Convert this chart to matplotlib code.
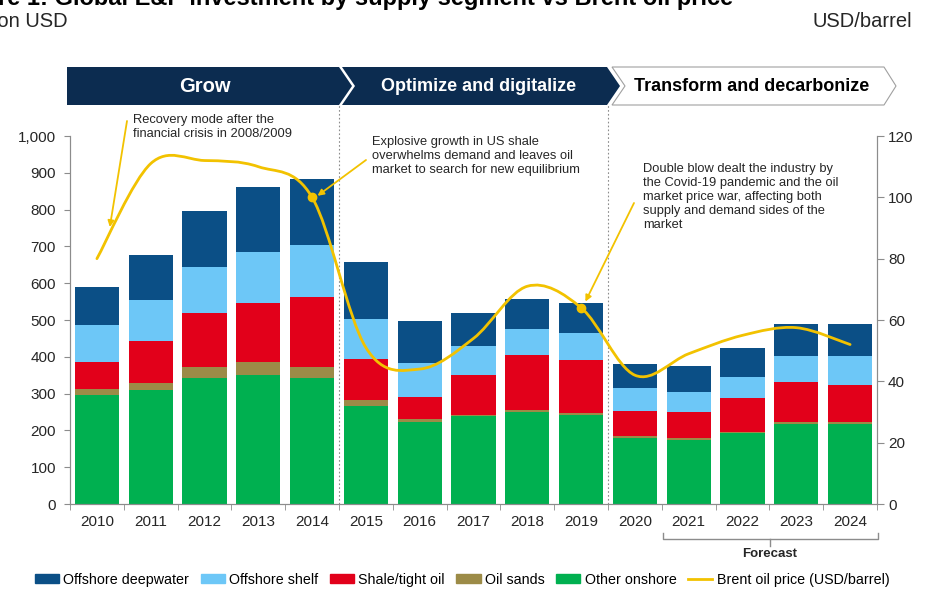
import matplotlib
matplotlib.use("Agg")
import matplotlib.pyplot as plt
import numpy as np
from matplotlib.patches import Polygon, Patch, PathPatch
from matplotlib.path import Path
from matplotlib.lines import Line2D
from matplotlib.ticker import FuncFormatter
import matplotlib.transforms as mtransforms

plt.rcParams["font.family"] = ["Liberation Sans", "DejaVu Sans"]

# ---- data ----
years = ["2010", "2011", "2012", "2013", "2014", "2015", "2016", "2017",
         "2018", "2019", "2020", "2021", "2022", "2023", "2024"]
other_onshore = [297, 310, 342, 351, 342, 267, 223, 238, 249, 242, 179, 175, 193, 218, 218]
oil_sands = [16, 20, 30, 34, 30, 16, 8, 5, 7, 5, 5, 4, 4, 5, 5]
shale_tight = [72, 112, 146, 162, 190, 111, 59, 107, 148, 145, 70, 71, 90, 108, 101]
offshore_shelf = [102, 111, 125, 137, 143, 108, 93, 78, 71, 74, 60, 55, 59, 71, 77]
offshore_deep = [102, 124, 154, 177, 177, 155, 113, 91, 83, 81, 66, 71, 77, 87, 89]
brent = [80, 111, 112, 110, 100, 51, 44, 54, 71, 64, 42, 49, 55, 57.5, 52]

segments = ["Other onshore", "Oil sands", "Shale/tight oil", "Offshore shelf", "Offshore deepwater"]
seg_values = [other_onshore, oil_sands, shale_tight, offshore_shelf, offshore_deep]
seg_colors = ["#00B050", "#9C8B47", "#E2001A", "#6DC7F7", "#0B4F86"]
phases = ["Grow", "Optimize and digitalize", "Transform and decarbonize"]

GOLD = "#F2C200"
NAVY = "#0C2C50"
GREY = "#8C8C8C"
TXT = "#262626"

W, H = 933, 589


def fx(px):
    return px / W


def fy(py):
    return 1 - py / H


fig = plt.figure(figsize=(W / 100, H / 100), dpi=100)
ax = fig.add_axes([fx(70), fy(504), fx(877) - fx(70), fy(136) - fy(504)])
ax2 = ax.twinx()

x = np.arange(len(years))
bottom = np.zeros(len(years))
for name, vals, col in zip(segments, seg_values, seg_colors):
    ax.bar(x, vals, width=0.82, bottom=bottom, color=col, label=name, zorder=2)
    bottom += np.array(vals)

ax.set_xlim(-0.5, len(years) - 0.5)
ax.set_ylim(0, 1000)
ax.set_yticks(range(0, 1001, 100))
ax.yaxis.set_major_formatter(FuncFormatter(lambda v, p: f"{int(v):,}"))
ax.set_xticks(x)
ax.set_xticklabels(years)
ax.set_xticks(np.arange(-0.5, len(years), 1), minor=True)
ax.tick_params(axis="x", which="major", length=0, pad=8, labelsize=11, labelcolor=TXT)
ax.tick_params(axis="x", which="minor", length=4, color=GREY, direction="out")
ax.tick_params(axis="y", length=4, color=GREY, pad=6, labelsize=11, labelcolor=TXT)

ax2.set_ylim(0, 120)
ax2.set_yticks(range(0, 121, 20))
ax2.tick_params(axis="y", length=5, color=GREY, pad=3, labelsize=11, labelcolor=TXT)

for a in (ax, ax2):
    a.spines["top"].set_visible(False)
    for s in ("left", "right", "bottom"):
        a.spines[s].set_color(GREY)
        a.spines[s].set_linewidth(0.8)

# smoothed Brent line drawn as Bezier segments through the data points
pts = np.column_stack([x, brent]).astype(float)
verts = [pts[0]]
codes = [Path.MOVETO]
n = len(pts)
for i in range(n - 1):
    p_prev = pts[i - 1] if i > 0 else pts[i]
    p_next2 = pts[i + 2] if i + 2 < n else pts[i + 1]
    c1 = pts[i] + (pts[i + 1] - p_prev) / 6
    c2 = pts[i + 1] - (p_next2 - pts[i]) / 6
    verts += [c1, c2, pts[i + 1]]
    codes += [Path.CURVE4] * 3
ax2.add_patch(PathPatch(Path(verts, codes), facecolor="none", edgecolor=GOLD,
                        lw=2.0, zorder=4, capstyle="round"))
ax2.plot([4, 9], [brent[4], brent[9]], "o", color=GOLD, ms=6, zorder=5)

# phase separators
blend = mtransforms.blended_transform_factory(ax.transData, ax.transAxes)
for xb in (4.5, 9.5):
    ax.plot([xb, xb], [0, (504 - 105) / 368], ls=(0, (1.5, 2)), color=GREY,
            lw=0.8, transform=blend, clip_on=False, zorder=1)

# banner chevrons
banner = [
    [(67, 67), (339, 67), (352, 86), (339, 105), (67, 105)],
    [(342, 67), (607, 67), (620, 86), (607, 105), (342, 105), (355, 86)],
    [(612, 67), (884, 67), (896, 86), (884, 105), (612, 105), (625, 86)],
]
for i, poly in enumerate(banner):
    xy = [(fx(a), fy(b)) for a, b in poly]
    if i < 2:
        fig.patches.append(Polygon(xy, closed=True, transform=fig.transFigure,
                                   facecolor=NAVY, edgecolor="none"))
    else:
        fig.patches.append(Polygon(xy, closed=True, transform=fig.transFigure,
                                   facecolor="white", edgecolor="#A0A0A0", lw=0.8))
fig.text(fx(205), fy(86.5), phases[0], ha="center", va="center", color="white",
         fontsize=14.5, fontweight="bold")
fig.text(fx(479), fy(86.5), phases[1], ha="center", va="center", color="white",
         fontsize=13, fontweight="bold")
fig.text(fx(752), fy(86.5), phases[2], ha="center", va="center", color="black",
         fontsize=13, fontweight="bold")

# titles
fig.text(fx(733), fy(5), "Figure 1: Global E&P investment by supply segment vs Brent oil price",
         ha="right", va="baseline", fontsize=17, fontweight="bold", color="black")
fig.text(fx(68), fy(26.7), "Billion USD", ha="right", va="baseline", fontsize=14.5, color=TXT)
fig.text(fx(912), fy(26.7), "USD/barrel", ha="right", va="baseline", fontsize=14.5, color=TXT)

# annotations
notes = [
    ("Recovery mode after the\nfinancial crisis in 2008/2009", (133, 114), (127, 121), (0.24, 90.3)),
    ("Explosive growth in US shale\noverwhelms demand and leaves oil\nmarket to search for new equilibrium",
     (372, 136), (366, 160), (4.1, 100.5)),
    ("Double blow dealt the industry by\nthe Covid-19 pandemic and the oil\nmarket price war, affecting both\n"
     "supply and demand sides of the\nmarket", (643, 163), (634, 203), (9.08, 66)),
]
for txt, tpos, astart, ahead in notes:
    fig.text(fx(tpos[0]), fy(tpos[1]), txt, ha="left", va="top", fontsize=9.3,
             color=TXT, linespacing=1.22)
    ax2.annotate("", xy=ahead, xycoords="data", xytext=(fx(astart[0]), fy(astart[1])),
                 textcoords="figure fraction", annotation_clip=False,
                 arrowprops=dict(arrowstyle="-|>", color=GOLD, lw=1.3,
                                 mutation_scale=9, shrinkA=0, shrinkB=0))

# forecast bracket
yb, yc, yt = (504 - 539) / 368, (504 - 533) / 368, (504 - 546) / 368
x0, x1, xm = 10.52, 14.52, 12.51
ax.plot([x0, x0, x1, x1], [yc, yb, yb, yc], color=GREY, lw=1.0, transform=blend, clip_on=False)
ax.plot([xm, xm], [yb, yt], color=GREY, lw=1.0, transform=blend, clip_on=False)
ax.text(xm, (504 - 554) / 368, "Forecast", transform=blend, ha="center", va="center",
        fontsize=9.5, fontweight="bold", color=TXT)

# legend
handles = [Patch(color=seg_colors[i], label=segments[i]) for i in (4, 3, 2, 1, 0)]
handles.append(Line2D([], [], color=GOLD, lw=2, label="Brent oil price (USD/barrel)"))
fig.legend(handles=handles, loc="center", bbox_to_anchor=(fx(462), fy(580)), ncol=6,
           frameon=False, fontsize=10.3, handlelength=1.7, handleheight=0.6,
           handletextpad=0.3, columnspacing=0.8, borderpad=0)

fig.savefig("out.png", dpi=100)
